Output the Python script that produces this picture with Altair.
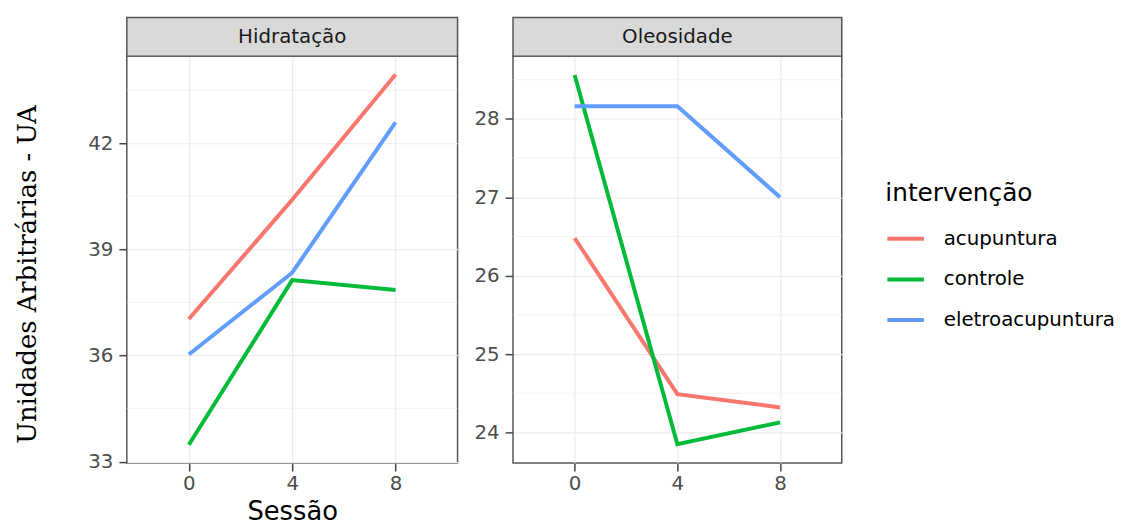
import altair as alt
import pandas as pd

sessions = [0, 4, 8]
groups = ["acupuntura", "controle", "eletroacupuntura"]
colors = ["#F8766D", "#00BA38", "#619CFF"]
panels = ["Hidratação", "Oleosidade"]

hid_acupuntura = [37.03, 40.40, 43.94]
hid_controle = [33.48, 38.13, 37.85]
hid_eletro = [36.03, 38.34, 42.59]

ole_acupuntura = [26.48, 24.49, 24.32]
ole_controle = [28.56, 23.85, 24.13]
ole_eletro = [28.16, 28.16, 27.00]

hid_ticks = [33, 36, 39, 42]
hid_minor = [34.5, 37.5, 40.5, 43.5]
ole_ticks = [24, 25, 26, 27, 28]
ole_minor = [24.5, 25.5, 26.5, 27.5, 28.5]
x_ticks = [0, 4, 8]


def make_df(series):
    rows = []
    for g, vals in zip(groups, series):
        for s, v in zip(sessions, vals):
            rows.append({"sessao": s, "valor": v, "grupo": g})
    return pd.DataFrame(rows)


df_hid = make_df([hid_acupuntura, hid_controle, hid_eletro])
df_ole = make_df([ole_acupuntura, ole_controle, ole_eletro])

W1, W2, H = 334, 332, 411
STRIP = 39
FONT = "DejaVu Sans"
BORDER = "#555555"


def panel(df, name, ydomain, yticks, yminor, width, first):
    xscale = alt.Scale(domain=[-2.4, 10.4], nice=False, zero=False)
    yscale = alt.Scale(domain=ydomain, nice=False, zero=False)
    xaxis_kw = dict(values=x_ticks, grid=True, gridColor="#ebebeb", gridWidth=1.2,
                    domain=False, tickColor="#444444", tickSize=8, tickWidth=1.5,
                    labelPadding=3,
                    labelFont=FONT, labelFontSize=20, labelColor="#4d4d4d", format="d")
    yaxis_kw = dict(values=yticks, grid=True, gridColor="#ebebeb", gridWidth=1.2,
                    domain=False, tickColor="#444444", tickSize=8, tickWidth=1.5,
                    labelPadding=6,
                    labelFont=FONT, labelFontSize=20, labelColor="#4d4d4d", format="d")
    if first:
        xaxis = alt.Axis(title="Sessão", titleFont=FONT, titleFontSize=26,
                         titleFontWeight="normal", titleColor="black", titlePadding=5,
                         **xaxis_kw)
        yaxis = alt.Axis(title="Unidades Arbitrárias - UA", titleFont="DejaVu Serif",
                         titleFontSize=26, titleFontWeight="normal", titleColor="black",
                         titlePadding=48, titleY=220, **yaxis_kw)
    else:
        xaxis = alt.Axis(title=None, **xaxis_kw)
        yaxis = alt.Axis(title=None, **yaxis_kw)

    lines = alt.Chart(df).mark_line(strokeWidth=4).encode(
        x=alt.X("sessao:Q", scale=xscale, axis=xaxis),
        y=alt.Y("valor:Q", scale=yscale, axis=yaxis),
        color=alt.Color("grupo:N", scale=alt.Scale(domain=groups, range=colors),
                        legend=alt.Legend(title="intervenção")),
    )

    minor = alt.Chart(pd.DataFrame({"valor": yminor})).mark_rule(
        color="#ebebeb", strokeWidth=0.6
    ).encode(y=alt.Y("valor:Q", scale=yscale, axis=yaxis))

    strip_df = pd.DataFrame({"painel": [name]})
    strip = alt.Chart(strip_df).mark_rect(
        fill="#d9d9d9", stroke=BORDER, strokeWidth=1.5
    ).encode(x=alt.value(0), x2=alt.value(width), y=alt.value(-STRIP), y2=alt.value(0))
    strip_text = alt.Chart(strip_df).mark_text(
        font=FONT, fontSize=20, color="#1a1a1a", align="center", baseline="middle"
    ).encode(x=alt.value(width / 2), y=alt.value(-STRIP / 2), text="painel:N")

    return alt.layer(minor, lines, strip, strip_text).properties(width=width, height=H)


p1 = panel(df_hid, panels[0], [32.96, 44.46], hid_ticks, hid_minor, W1, True)
p2 = panel(df_ole, panels[1], [23.61, 28.80], ole_ticks, ole_minor, W2, False)

chart = alt.hconcat(p1, p2, spacing=13).resolve_scale(
    x="independent", y="independent", color="shared"
).configure_view(
    stroke=BORDER, strokeWidth=1.5
).configure_legend(
    orient="none", legendX=766, legendY=126,
    titleFont=FONT, titleFontSize=25, titleFontWeight="normal", titleColor="black",
    titlePadding=13, labelLimit=400,
    labelFont=FONT, labelFontSize=20, labelColor="black", labelOffset=18,
    symbolType="stroke", symbolSize=1369, symbolStrokeWidth=4, rowPadding=10,
).properties(background="white")

chart.save("out.html", embed_options={"renderer": "svg", "actions": False})
